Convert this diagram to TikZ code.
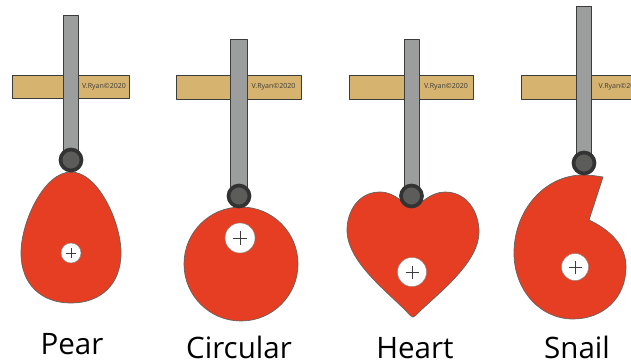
\documentclass[tikz,border=0pt]{standalone}
\usepackage{fontspec}
\setmainfont{Open Sans}
\definecolor{camred}{HTML}{E63E23}
\definecolor{guidetan}{HTML}{D6B36F}
\definecolor{rodgrey}{HTML}{9C9E9D}
\definecolor{rollergrey}{HTML}{5C5C5A}
\definecolor{edgegrey}{HTML}{3C3C3A}
\begin{document}
\begin{tikzpicture}[x=0.025cm,y=-0.025cm,line join=round,
    cam/.style={fill=camred,draw=edgegrey!80,line width=0.5pt},
    guide/.style={fill=guidetan,draw=edgegrey,line width=0.6pt},
    rod/.style={fill=rodgrey,draw=edgegrey,line width=0.6pt},
    roller/.style={fill=rollergrey,draw=black!80,line width=2.6pt},
    hole/.style={fill=white,draw=edgegrey!60,line width=0.3pt},
    camname/.style={font=\fontsize{21}{21}\selectfont,anchor=base,inner sep=0pt},
    stamp/.style={font=\fontsize{5}{6}\selectfont,text=edgegrey,inner sep=0pt}]
    \clip (0,0) rectangle (631,363);
    % cams
    \draw[cam] (71,172) .. controls (98,172) and (121,222) .. (121,253) .. controls (121,285) and (100,303) .. (71,303) .. controls (42,303) and (21,285) .. (21,253) .. controls (21,222) and (44,172) .. (71,172) -- cycle;
    \draw[cam] (241,264) circle (57);
    \draw[cam] (412,208) .. controls (405,206) and (396,192) .. (380,192) .. controls (358,192) and (347,212) .. (347,230) .. controls (347,262) and (388,292) .. (407,312) .. controls (410,315) and (411,317) .. (413,317) .. controls (415,317) and (416,315) .. (419,312) .. controls (440,292) and (479,262) .. (479,232) .. controls (479,212) and (467,192) .. (445,192) .. controls (430,192) and (420,205) .. (412,208) -- cycle;
    \draw[cam] (603,177) -- (589,220) .. controls (610,230) and (626,245) .. (626,267) .. controls (626,298) and (603,319) .. (573,319) .. controls (540,319) and (514,290) .. (514,253) .. controls (514,210) and (545,175) .. (583,175) .. controls (590,175) and (597,176) .. (603,177) -- cycle;
    % followers
    \foreach \rodl/\rodr/\rodtop/\barl/\barr/\barb/\rollerx/\rollery/\stampx/\nom in {63.5/78/15/12/129/98/71/160/104/pear,230.5/247/39/176/301/99/239/196/273.5/circular,404/419/39/349/473/99/411.5/196/446/heart,576.5/591.5/6/521.5/640/99/584/163/620.5/snail}{
        \draw[guide] (\barl,75) rectangle (\barr,\barb);
        \draw[rod] (\rodl,\rodtop) rectangle (\rodr,\rollery);
        \draw[roller] (\rollerx,\rollery) circle (10.5);
        \node[stamp] (stamp\nom) at (\stampx,87) {V.Ryan©2020};
    }
    % holes
    \foreach \holex/\holey/\holer/\plusr in {71/253/10/5,240/238/15/7,412/272/14.5/6.5,575/267/13.5/6.5}{
        \draw[hole] (\holex,\holey) circle (\holer);
        \draw[edgegrey,line width=0.3pt] (\holex-\plusr,\holey) -- (\holex+\plusr,\holey) (\holex,\holey-\plusr) -- (\holex,\holey+\plusr);
    }
    \node[camname] (pear) at (72,354) {Pear};
    \node[camname] (circular) at (239,358) {Circular};
    \node[camname] (heart) at (415,358) {Heart};
    \node[camname] (snail) at (577,358) {Snail};
\end{tikzpicture}
\end{document}
